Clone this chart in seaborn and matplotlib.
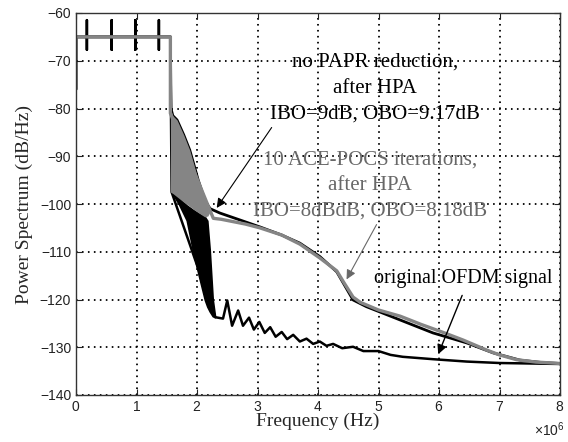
import numpy as np
import pandas as pd
import matplotlib
matplotlib.use("Agg")
import matplotlib.pyplot as plt
import matplotlib.ticker as mticker
import seaborn as sns

# ---------------- data (frequency in MHz, spectrum in dB/Hz) ----------------
orig_f = [0.0, 0.0, 0.18, 0.18, 0.18, 0.18, 0.59, 0.59, 0.59, 0.59,
          0.98, 0.98, 0.98, 0.98, 1.37, 1.37, 1.37, 1.37, 1.56, 1.58,
          2.30, 2.43, 2.50, 2.58, 2.68, 2.76, 2.86, 2.94, 3.03, 3.12,
          3.21, 3.30, 3.40, 3.49, 3.59, 3.70, 3.81, 3.92, 4.03, 4.14,
          4.25, 4.40, 4.58, 4.75, 5.00, 5.20, 5.40, 5.90, 6.46, 7.00, 8.00]
orig_p = [-76.0, -65.0, -65.0, -61.5, -67.7, -65.0, -65.0, -61.5, -67.7, -65.0,
          -65.0, -61.5, -67.7, -65.0, -65.0, -61.5, -67.7, -65.0, -65.0, -97.5,
          -123.7, -124.0, -120.2, -125.5, -122.3, -125.5, -123.8, -126.3, -124.7, -127.0,
          -125.8, -127.8, -126.8, -128.3, -127.4, -128.8, -128.2, -129.3, -128.8, -129.7,
          -129.3, -130.2, -129.9, -130.8, -130.8, -131.6, -132.0, -132.5, -133.0, -133.3, -133.5]

# dense side-lobe region of the original OFDM spectrum (envelopes)
orig_band_f = [1.58, 1.70, 1.83, 1.93, 2.03, 2.13, 2.17, 2.21, 2.26, 2.30]
orig_band_hi = [-97.0, -98.8, -100.3, -101.2, -102.0, -102.7, -103.5, -109.6, -120.0, -123.7]
orig_band_lo = [-97.5, -100.0, -103.4, -109.6, -115.0, -120.1, -121.5, -122.5, -123.5, -123.7]

nopapr_f = [0.0, 0.0, 1.56, 1.57, 1.60, 1.67, 1.78, 1.88, 1.95, 2.02, 2.08, 2.13,
            2.18, 2.22, 2.38, 2.70, 3.04, 3.40, 3.70, 4.03, 4.31, 4.42, 4.58, 4.80,
            5.36, 5.90, 6.46, 6.90, 7.34, 7.70, 8.00]
nopapr_p = [-76.0, -65.0, -65.0, -80.0, -81.5, -82.4, -85.5, -88.7, -91.8, -95.0, -97.3, -99.2,
            -100.3, -101.0, -101.9, -103.3, -104.8, -106.5, -108.2, -111.0, -114.2, -116.6, -120.1, -121.5,
            -124.3, -127.0, -129.1, -131.2, -132.7, -133.2, -133.4]

ace_f = [0.0, 1.56, 1.56, 2.22, 2.27, 2.40, 2.60, 2.80, 3.04, 3.40, 3.70, 4.03,
         4.31, 4.42, 4.58, 4.70, 5.00, 5.36, 5.70, 6.07, 6.40, 6.79, 7.00, 7.28,
         7.60, 8.00]
ace_p = [-65.0, -65.0, -81.0, -101.5, -103.0, -103.2, -103.7, -104.2, -105.0, -106.5, -108.4, -111.3,
         -114.0, -116.3, -119.5, -120.6, -122.2, -123.5, -125.2, -126.9, -128.5, -130.6, -131.6, -132.6,
         -133.1, -133.4]

# dense region of the ACE-POCS spectrum (envelopes)
ace_band_f = [1.56, 1.60, 1.67, 1.78, 1.88, 1.95, 2.02, 2.08, 2.13, 2.18, 2.22]
ace_band_hi = [-80.0, -81.5, -82.4, -85.5, -88.7, -91.8, -95.0, -97.3, -99.2, -100.3, -101.0]
ace_band_lo = [-97.5, -97.8, -98.5, -99.6, -100.5, -101.2, -101.8, -102.3, -102.7, -102.5, -101.5]

x_ticks = [0, 1, 2, 3, 4, 5, 6, 7, 8]
y_ticks = [-140, -130, -120, -110, -100, -90, -80, -70, -60]

MHZ = 1e6
GRAY = "#858585"
TXTGRAY = "#686868"

sns.set_style("white")
plt.rcParams["font.family"] = ["Liberation Sans", "DejaVu Sans"]
plt.rcParams["mathtext.fontset"] = "custom"
plt.rcParams["mathtext.rm"] = "Liberation Sans"
plt.rcParams["xtick.bottom"] = True
plt.rcParams["ytick.left"] = True
plt.rcParams["xtick.top"] = True
plt.rcParams["ytick.right"] = True
plt.rcParams["axes.axisbelow"] = False

fig = plt.figure(figsize=(5.68, 4.42), dpi=100)
ax = fig.add_axes([76 / 568, 1 - 395 / 442, (560 - 76) / 568, (395 - 13) / 442])

df_o = pd.DataFrame({"f": np.array(orig_f) * MHZ, "p": orig_p})
df_n = pd.DataFrame({"f": np.array(nopapr_f) * MHZ, "p": nopapr_p})
df_a = pd.DataFrame({"f": np.array(ace_f) * MHZ, "p": ace_p})

# original OFDM
ax.fill_between(np.array(orig_band_f) * MHZ, orig_band_lo, orig_band_hi,
                color="black", lw=1.2, edgecolor="black", zorder=2)
sns.lineplot(data=df_o, x="f", y="p", estimator=None, sort=False,
             color="black", lw=1.8, ax=ax, zorder=3)
# no PAPR reduction
sns.lineplot(data=df_n, x="f", y="p", estimator=None, sort=False,
             color="black", lw=2.0, ax=ax, zorder=3)
# ACE-POCS
ax.fill_between(np.array(ace_band_f) * MHZ, ace_band_lo, ace_band_hi,
                color=GRAY, lw=0, zorder=4)
sns.lineplot(data=df_a, x="f", y="p", estimator=None, sort=False,
             color=GRAY, lw=2.4, ax=ax, zorder=4)

ax.set_xlim(0, 8 * MHZ)
ax.set_ylim(-140, -60)
ax.set_xticks(np.array(x_ticks) * MHZ)
ax.set_yticks(y_ticks)
fmt = mticker.ScalarFormatter(useMathText=True)
fmt.set_powerlimits((0, 0))
ax.xaxis.set_major_formatter(fmt)
ax.xaxis.get_offset_text().set_visible(False)
ax.tick_params(which="major", direction="in", length=4, width=0.8, labelsize=10,
               colors="#222222", bottom=True, left=True, top=True, right=True,
               grid_color="black", grid_linestyle=(0, (0.9, 2.4)),
               grid_linewidth=1.3, grid_alpha=1.0)
ax.xaxis.grid(True, which="major")
ax.yaxis.grid(True, which="major")
for s in ax.spines.values():
    s.set_color("#333333")
    s.set_linewidth(1.0)
    s.set_zorder(7)

fig.text(0.995, 1 - 430 / 442, r"$\times10^{6}$", ha="right", va="center",
         fontsize=10, color="#222222")

serif = ["Liberation Serif", "DejaVu Serif"]
ax.set_xlabel("Frequency (Hz)", family=serif, fontsize=14, labelpad=-1)
ax.set_ylabel("Power Spectrum (dB/Hz)", family=serif, fontsize=14, labelpad=5)

ax.text(4.94 * MHZ, -75.8, "no PAPR reduction,\nafter HPA\nIBO=9dB, OBO=9.17dB",
        family=serif, fontsize=15, ha="center", va="center", color="black",
        linespacing=1.5, zorder=6)
ax.text(4.86 * MHZ, -96.1, "10 ACE-POCS iterations,\nafter HPA\nIBO=8dBdB, OBO=8.18dB",
        family=serif, fontsize=15, ha="center", va="center", color=TXTGRAY,
        linespacing=1.47, zorder=6)
ax.text(6.40 * MHZ, -115.6, "original OFDM signal",
        family=serif, fontsize=14.5, ha="center", va="center", color="black", zorder=6)

ax.annotate("", xy=(2.30 * MHZ, -101.3), xytext=(3.26 * MHZ, -83.5),
            arrowprops=dict(arrowstyle="-|>", color="black", lw=0.8, mutation_scale=14), zorder=6)
ax.annotate("", xy=(4.45 * MHZ, -116.3), xytext=(4.99 * MHZ, -103.8),
            arrowprops=dict(arrowstyle="-|>", color=TXTGRAY, lw=0.8, mutation_scale=14), zorder=6)
ax.annotate("", xy=(5.97 * MHZ, -132.0), xytext=(6.40 * MHZ, -118.6),
            arrowprops=dict(arrowstyle="-|>", color="black", lw=1.0, mutation_scale=14), zorder=6)

fig.savefig("out.png", dpi=100)
